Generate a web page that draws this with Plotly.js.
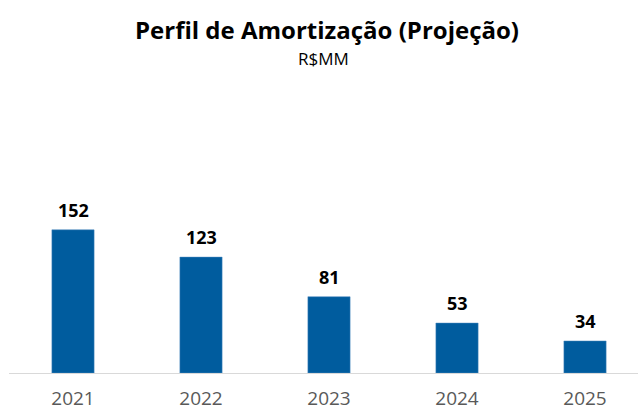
<!DOCTYPE html>
<html>
<head>
<meta charset="utf-8">
<script src="https://cdn.plot.ly/plotly-3.0.1.min.js"></script>
<style>html,body{margin:0;padding:0;background:#fff;}#chart{width:638px;height:410px;}</style>
</head>
<body>
<div id="chart"></div>
<script>
const years = ['2021', '2022', '2023', '2024', '2025'];
const values = [152, 123, 81, 53, 34];
const titleText = 'Perfil de Amortização (Projeção)';
const subtitleText = 'R$MM';

const FONT = 'Open Sans, sans-serif';
const trace = {
  type: 'bar',
  x: years,
  y: values,
  width: 0.33,
  marker: {color: '#005C9E', line: {color: '#4A88BE', width: 0.5}},
  hoverinfo: 'none'
};
const annotations = years.map((yr, i) => ({
  text: String(values[i]), x: i, y: values[i], xref: 'x', yref: 'y',
  xanchor: 'center', yanchor: 'bottom', yshift: 6, showarrow: false,
  font: {family: FONT, size: 18, color: '#000', weight: 'bold'}
}));
const plotH = 410 - 80 - 37;
annotations.push(
  {text: titleText, xref: 'paper', yref: 'paper', x: (327 - 9) / 629, y: (410 - 37 - 29) / plotH,
   xanchor: 'center', yanchor: 'middle', showarrow: false,
   font: {family: FONT, size: 24, color: '#000', weight: 'bold'}},
  {text: subtitleText, xref: 'paper', yref: 'paper', x: (324 - 9) / 629, y: (410 - 37 - 58) / plotH,
   xanchor: 'center', yanchor: 'middle', showarrow: false,
   font: {family: FONT, size: 17, color: '#000'}}
);
const layout = {
  width: 638, height: 410,
  margin: {l: 9, r: 0, t: 80, b: 37},
  paper_bgcolor: '#fff', plot_bgcolor: '#fff',
  showlegend: false,
  xaxis: {
    type: 'category',
    range: [-0.5, 4.414],
    showline: true, linecolor: '#D9D9D9', linewidth: 1,
    showgrid: false, zeroline: false, ticks: '',
    ticklabelstandoff: 8,
    tickfont: {family: FONT, size: 19, color: '#595959'},
    fixedrange: true
  },
  yaxis: {
    range: [0, 311],
    visible: false, showgrid: false, zeroline: false,
    fixedrange: true
  },
  annotations: annotations
};
Plotly.newPlot('chart', [trace], layout, {displayModeBar: false, staticPlot: true});
</script>
</body>
</html>
